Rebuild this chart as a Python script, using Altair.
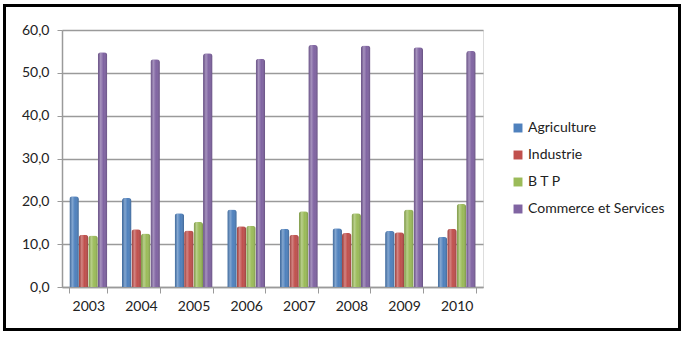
import altair as alt
import pandas as pd

# Share of each sector per year (%)
years = ["2003", "2004", "2005", "2006", "2007", "2008", "2009", "2010"]
sectors = ["Agriculture", "Industrie", "BTP", "Commerce et Services"]
agriculture = [21.2, 20.8, 17.2, 18.1, 13.6, 13.7, 13.1, 11.7]
industrie = [12.2, 13.5, 13.2, 14.2, 12.2, 12.6, 12.8, 13.6]
btp = [12.0, 12.5, 15.2, 14.3, 17.7, 17.2, 18.1, 19.4]
commerce = [54.8, 53.2, 54.6, 53.3, 56.5, 56.4, 56.0, 55.1]
palette = ["#4F81BD", "#C0504D", "#9BBB59", "#8064A2"]

series = dict(zip(sectors, [agriculture, industrie, btp, commerce]))
rows = []
for s in sectors:
    for y, v in zip(years, series[s]):
        rows.append({"annee": y, "secteur": s, "valeur": v})
df = pd.DataFrame(rows)

W, H = 421, 257
FONT = "Lato"

x_enc = alt.X(
    "annee:N",
    sort=years,
    title=None,
    scale=alt.Scale(paddingInner=0.28, paddingOuter=0.14),
    axis=alt.Axis(
        labelAngle=0, labelFontSize=14, labelColor="#222222", labelFont=FONT,
        tickBand="extent", tickSize=6, tickColor="#9a9a9a", domainColor="#9a9a9a",
        domainWidth=1.5, labelPadding=6, grid=False,
    ),
)
y_enc = alt.Y(
    "valeur:Q",
    title=None,
    scale=alt.Scale(domain=[0, 60], nice=False),
    axis=alt.Axis(
        values=[0, 10, 20, 30, 40, 50, 60],
        labelExpr="replace(format(datum.value, '.1f'), '.', ',')",
        labelFontSize=14, labelColor="#222222", labelFont=FONT,
        tickSize=5, tickColor="#9a9a9a", domainColor="#9a9a9a", domainWidth=1.5,
        gridColor="#9a9a9a", gridWidth=1.5, labelPadding=8,
    ),
)
xoff = alt.XOffset("secteur:N", sort=sectors, scale=alt.Scale(paddingInner=0))

bars = alt.Chart(df).mark_bar(cornerRadiusTopLeft=3, cornerRadiusTopRight=3).encode(
    x=x_enc,
    y=y_enc,
    xOffset=xoff,
    color=alt.Color(
        "secteur:N",
        sort=sectors,
        scale=alt.Scale(domain=sectors, range=palette),
        legend=alt.Legend(
            title=None, orient="none", legendX=449, legendY=91,
            symbolType="square", symbolSize=80, symbolStrokeWidth=0,
            labelFontSize=14, labelFont=FONT, labelColor="#222222",
            rowPadding=13, labelOffset=3,
            labelExpr="datum.label == 'BTP' ? 'B T P' : datum.label",
        ),
    ),
)

# Cylinder shading drawn over each bar
shade = alt.Chart(df).mark_bar(
    cornerRadiusTopLeft=3, cornerRadiusTopRight=3,
    color=alt.Gradient(
        gradient="linear", x1=0, x2=1, y1=0, y2=0,
        stops=[
            alt.GradientStop(offset=0, color="rgba(0,0,0,0.15)"),
            alt.GradientStop(offset=0.3, color="rgba(255,255,255,0.30)"),
            alt.GradientStop(offset=0.6, color="rgba(255,255,255,0.0)"),
            alt.GradientStop(offset=1, color="rgba(0,0,0,0.22)"),
        ],
    ),
).encode(x=alt.X("annee:N", sort=years), y="valeur:Q", xOffset=xoff)

# Black frame around the whole figure
frame = alt.Chart(df).mark_rect(
    fill=None, stroke="black", strokeWidth=3, clip=False
).encode(
    x=alt.value(-57.5), x2=alt.value(617.5),
    y=alt.value(-24.5), y2=alt.value(299.5),
)

chart = alt.layer(bars, shade, frame).properties(
    width=W, height=H,
    padding={"left": 3, "top": 4, "right": 2, "bottom": 8},
).configure_view(stroke=None).configure(background="white")

chart.save("out.html", embed_options={"renderer": "svg", "actions": False})
